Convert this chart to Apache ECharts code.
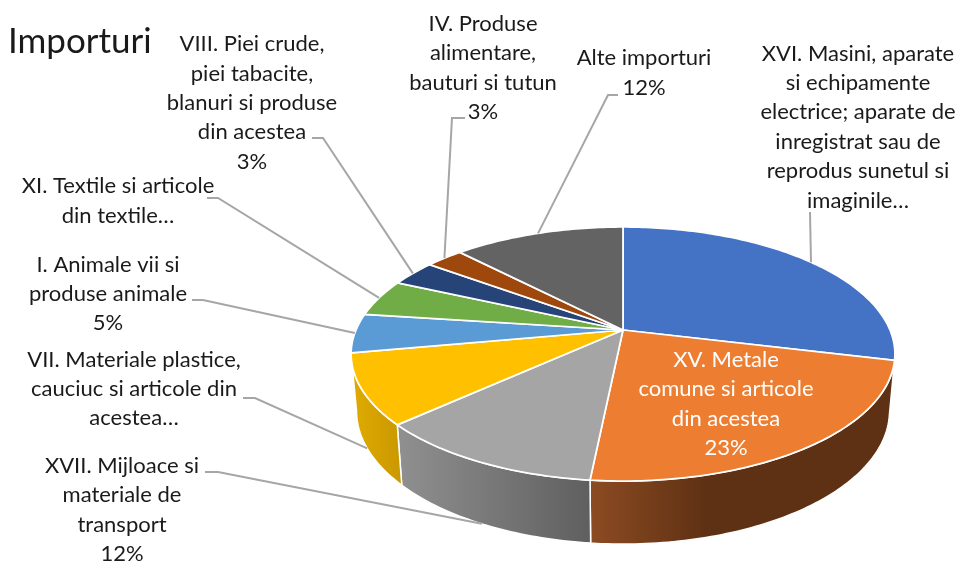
<!DOCTYPE html>
<html>
<head>
<meta charset="utf-8">
<style>html,body{margin:0;padding:0;background:#fff}#c{width:960px;height:561px}</style>
<script src="https://cdn.jsdelivr.net/npm/echarts@6/dist/echarts.min.js"></script>
</head>
<body>
<div id="c"></div>
<script>
// --- data ---
const chartTitle = 'Importuri';
const categories = [
  'XVI. Masini, aparate\nsi echipamente\nelectrice; aparate de\ninregistrat sau de\nreprodus sunetul si\nimaginile…',
  'XV. Metale\ncomune si articole\ndin acestea',
  'XVII. Mijloace si\nmateriale de\ntransport',
  'VII. Materiale plastice,\ncauciuc si articole din\nacestea…',
  'I. Animale vii si\nproduse animale',
  'XI. Textile si articole\ndin textile…',
  'VIII. Piei crude,\npiei tabacite,\nblanuri si produse\ndin acestea',
  'IV. Produse\nalimentare,\nbauturi si tutun',
  'Alte importuri'
];
const values = [28.8, 22.8, 11.6, 8.9, 5.0, 4.7, 3.3, 2.7, 12.2];
const showPercent = [false, true, true, false, true, false, true, true, true];
const colors = ['#4472c4', '#ed7d31', '#a5a5a5', '#ffc000', '#5b9bd5', '#70ad47', '#264478', '#9e480e', '#636363'];

// --- styles / layout (not data) ---
const wallStops = [
  ['#2c4a80', '#2c4a80'],
  ['#8d4b22', '#5f3114', 0.38],
  ['#909090', '#5f5f5f', 1],
  ['#e0ab00', '#c99800', 1],
  ['#3b6690', '#3b6690'],
  ['#49702e', '#49702e'],
  ['#18294d', '#18294d'],
  ['#662f09', '#662f09'],
  ['#404040', '#404040']
];
const FONT = 'Lato';
const FS = 22;
const LH = 29.4;
const pie = {cx: 623, cy: 330, a: 267, b: 122.5, k: 0.189, wallScaleX: 0.98, wallScaleY: 1.047, wallShift: 40.4};
// label block centre, label colour, leader start + elbow, and whether the leader lands on the lower rim
const labelLayout = [
  {x: 858, y: 127, line: [[810, 212]], low: false},
  {x: 726, y: 404, color: '#fff'},
  {x: 122, y: 510, line: [[205, 472], [218, 472]], low: true},
  {x: 134, y: 389, line: [[243, 398], [255, 398]], low: true},
  {x: 108, y: 294, line: [[192, 300], [203, 300]], low: false},
  {x: 118, y: 201, line: [[207, 198], [218, 198]], low: false},
  {x: 252, y: 103, line: [[312, 138], [323, 138]], low: false},
  {x: 483, y: 68, line: [[465, 118], [452, 118]], low: false},
  {x: 644, y: 73, line: [[618, 95], [608, 95]], low: false}
];

// --- projection from the data's angle to the tilted disc ---
const total = values.reduce((s, v) => s + v, 0);
function startAngle(i) {
  let s = 0;
  for (let j = 0; j < i; j++) s += values[j];
  return s / total * 2 * Math.PI;
}
function endAngle(i) { return startAngle(i + 1); }
function project(u, v) {
  const w = 1 - pie.k * v;
  return [pie.cx + pie.a * u / w, pie.cy + pie.b * v / w];
}
function rim(t) { return project(Math.sin(t), -Math.cos(t)); }
function lower(p) { return [pie.cx + (p[0] - pie.cx) * pie.wallScaleX, p[1] * pie.wallScaleY + pie.wallShift]; }
function arc(t0, t1) {
  const n = Math.max(2, Math.ceil((t1 - t0) / (Math.PI / 180)));
  const pts = [];
  for (let i = 0; i <= n; i++) pts.push(rim(t0 + (t1 - t0) * i / n));
  return pts;
}
// the wall faces the viewer only on the front part of the rim
const frontFrom = Math.acos(-pie.k);
const frontTo = 2 * Math.PI - frontFrom;

const chart = echarts.init(document.getElementById('c'), null, {renderer: 'canvas'});
chart.setOption({
  animation: false,
  backgroundColor: '#fff',
  title: {
    text: chartTitle, left: 3, top: 19,
    textStyle: {fontFamily: FONT, fontWeight: 'normal', fontSize: 35, color: '#1a1a1a'}
  },
  series: [
    {
      type: 'custom', coordinateSystem: 'none', data: values, z: 1, silent: true,
      renderItem(params) {
        const i = params.dataIndex;
        const t0 = Math.max(startAngle(i), frontFrom);
        const t1 = Math.min(endAngle(i), frontTo);
        if (t1 <= t0) return null;
        const top = arc(t0, t1);
        const pts = top.concat(top.map(lower).reverse());
        const st = wallStops[i];
        const stop = st[2] === undefined ? 1 : st[2];
        return {
          type: 'polygon', shape: {points: pts},
          style: {
            fill: new echarts.graphic.LinearGradient(0, 0, 1, 0, [
              {offset: 0, color: st[0]}, {offset: stop, color: st[1]}, {offset: 1, color: st[1]}
            ]),
            stroke: '#fff', lineWidth: 1.5, lineJoin: 'round'
          }
        };
      }
    },
    {
      type: 'custom', coordinateSystem: 'none', data: values, z: 2, silent: true,
      renderItem(params) {
        const i = params.dataIndex;
        const pts = [[pie.cx, pie.cy]].concat(arc(startAngle(i), endAngle(i)));
        return {
          type: 'polygon', shape: {points: pts},
          style: {fill: colors[i], stroke: '#fff', lineWidth: 1.75, lineJoin: 'round'}
        };
      }
    },
    {
      type: 'custom', coordinateSystem: 'none', data: values, z: 3, silent: true,
      renderItem(params, api) {
        const i = params.dataIndex;
        const L = labelLayout[i];
        const children = [];
        if (L.line) {
          const tip = rim((startAngle(i) + endAngle(i)) / 2);
          const end = L.low ? lower(tip) : tip;
          children.push({
            type: 'polyline', shape: {points: L.line.concat([end])},
            style: {fill: 'none', stroke: '#a6a6a6', lineWidth: 2}
          });
        }
        const pct = Math.round(api.value(0) / total * 100) + '%';
        children.push({
          type: 'text',
          style: {
            x: L.x, y: L.y,
            text: categories[i] + (showPercent[i] ? '\n' + pct : ''),
            align: 'center', verticalAlign: 'middle',
            fontFamily: FONT, fontSize: FS, lineHeight: LH,
            fill: L.color || '#1a1a1a'
          }
        });
        return {type: 'group', children};
      }
    }
  ]
});
</script>
</body>
</html>
